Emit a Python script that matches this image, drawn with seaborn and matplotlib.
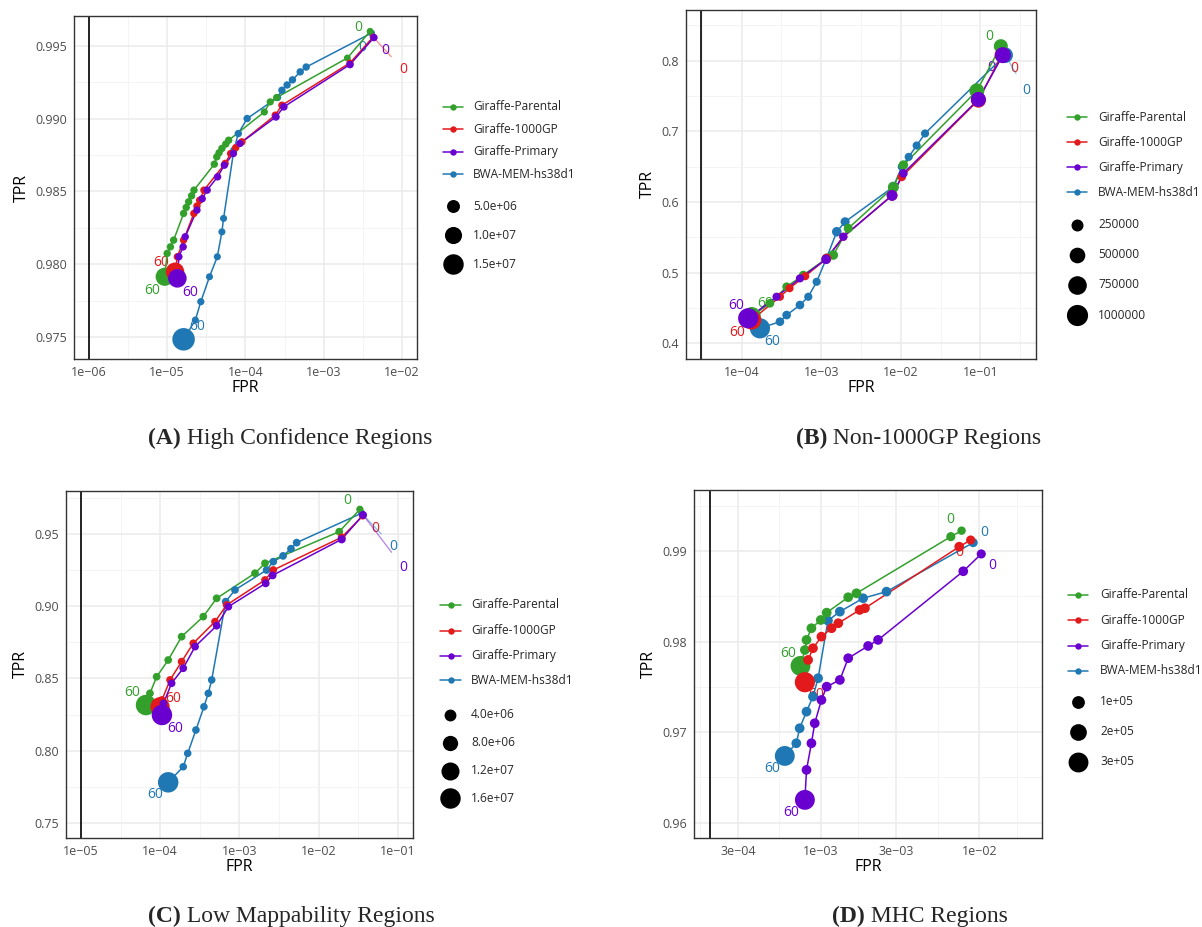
import numpy as np
import pandas as pd
import matplotlib
matplotlib.use("Agg")
import matplotlib.pyplot as plt
import seaborn as sns
from matplotlib.lines import Line2D
from matplotlib.ticker import FixedLocator, FixedFormatter, NullFormatter

W, H = 1202, 927

ALIGNERS = ["Giraffe-Parental", "Giraffe-1000GP", "Giraffe-Primary", "BWA-MEM-hs38d1"]
COLORS = ["#33A02C", "#E31A1C", "#6A00D0", "#1F78B4"]

# ---------------- Panel A: High Confidence Regions ----------------
A_PAR_FPR = [3.9e-3, 2.0e-3, 2.5e-4, 2.07e-4, 1.74e-4, 6.1e-5, 5.6e-5, 5.0e-5, 4.6e-5, 4.3e-5, 4.0e-5, 2.2e-5, 2.05e-5, 1.88e-5, 1.75e-5, 1.62e-5, 1.21e-5, 1.1e-5, 1.0e-5, 9.3e-6]
A_PAR_TPR = [0.99598, 0.99415, 0.99144, 0.99114, 0.99045, 0.98851, 0.98825, 0.98795, 0.98765, 0.98737, 0.98687, 0.98509, 0.98470, 0.98429, 0.98390, 0.98349, 0.98166, 0.98120, 0.98075, 0.97915]
A_PAR_N = [2e5, 2e5, 4e5, 4e5, 4e5, 5e5, 5e5, 5e5, 5e5, 5e5, 5e5, 5e5, 5e5, 5e5, 5e5, 5e5, 5e5, 5e5, 5e5, 1.15e7]

A_1KG_FPR = [4.27e-3, 2.16e-3, 2.92e-4, 2.40e-4, 9.0e-5, 7.5e-5, 6.46e-5, 5.5e-5, 2.95e-5, 2.6e-5, 2.4e-5, 2.19e-5, 1.62e-5, 1.35e-5, 1.26e-5]
A_1KG_TPR = [0.99559, 0.99381, 0.99091, 0.99023, 0.98840, 0.98800, 0.98760, 0.98692, 0.98509, 0.98440, 0.98400, 0.98349, 0.98166, 0.98052, 0.97949]
A_1KG_N = [2e5, 3e5, 5e5, 5e5, 5e5, 5e5, 5e5, 5e5, 5e5, 5e5, 5e5, 5e5, 5e5, 5e5, 1.2e7]

A_PRI_FPR = [4.37e-3, 2.16e-3, 3.09e-4, 2.45e-4, 8.5e-5, 7.0e-5, 5.37e-5, 4.4e-5, 3.24e-5, 2.8e-5, 2.4e-5, 1.7e-5, 1.6e-5, 1.41e-5, 1.35e-5]
A_PRI_TPR = [0.99555, 0.99370, 0.99080, 0.99011, 0.98829, 0.98760, 0.98680, 0.98600, 0.98509, 0.98450, 0.98372, 0.98189, 0.98120, 0.98052, 0.97904]
A_PRI_N = [5e5, 6e5, 6e5, 6e5, 5e5, 5e5, 5e5, 5e5, 5e5, 5e5, 5e5, 5e5, 5e5, 5e5, 1.2e7]

A_BWA_FPR = [4.07e-3, 5.96e-4, 5.0e-4, 3.98e-4, 3.4e-4, 2.92e-4, 2.57e-4, 1.05e-4, 8.1e-5, 7.1e-5, 5.25e-5, 5.0e-5, 4.37e-5, 3.47e-5, 2.69e-5, 2.29e-5, 1.62e-5]
A_BWA_TPR = [0.99586, 0.99353, 0.99320, 0.99265, 0.99230, 0.99194, 0.99144, 0.99000, 0.98897, 0.98783, 0.98315, 0.98223, 0.98052, 0.97915, 0.97744, 0.97618, 0.97486]
A_BWA_N = [2e5, 5e5, 5e5, 5e5, 5e5, 5e5, 4e5, 5e5, 5e5, 4e5, 3e5, 3e5, 3e5, 3e5, 4e5, 3e5, 1.85e7]

# ---------------- Panel B: Non-1000GP Regions ----------------
B_PAR_FPR = [0.181, 0.0904, 0.01079, 0.00807, 0.00219, 0.00142, 0.00117, 5.96e-4, 3.68e-4, 2.27e-4, 1.34e-4]
B_PAR_TPR = [0.8205, 0.7573, 0.6522, 0.6207, 0.5627, 0.5249, 0.5202, 0.4966, 0.4801, 0.4566, 0.4386]
B_PAR_N = [3.8e5, 4.5e5, 1.2e5, 1.9e5, 1e5, 1.2e5, 1.2e5, 8e4, 8e4, 8e4, 7e5]

B_1KG_FPR = [0.186, 0.0946, 0.0103, 0.00778, 0.0019, 0.00117, 6.3e-4, 4.0e-4, 3.03e-4, 1.34e-4]
B_1KG_TPR = [0.8078, 0.7441, 0.6356, 0.6093, 0.5508, 0.5202, 0.4950, 0.4780, 0.4659, 0.4330]
B_1KG_N = [4e5, 4.5e5, 8e4, 1.8e5, 6e4, 1.2e5, 6e4, 6e4, 6e4, 8e5]

B_PRI_FPR = [0.192, 0.0946, 0.01079, 0.00778, 0.0019, 0.00115, 5.41e-4, 2.75e-4, 1.21e-4]
B_PRI_TPR = [0.8078, 0.7451, 0.6405, 0.6093, 0.5508, 0.5188, 0.4919, 0.4659, 0.4354]
B_PRI_N = [5.3e5, 4.5e5, 8e4, 1.8e5, 6e4, 1.2e5, 6e4, 6e4, 9e5]

B_BWA_FPR = [0.205, 0.0202, 0.01585, 0.01259, 0.0103, 0.00807, 0.002, 0.00157, 0.00115, 8.77e-4, 6.89e-4, 5.41e-4, 3.68e-4, 3.03e-4, 1.70e-4]
B_BWA_TPR = [0.8078, 0.6970, 0.6799, 0.6638, 0.6498, 0.6215, 0.5720, 0.5579, 0.5188, 0.4871, 0.4659, 0.4542, 0.4400, 0.4306, 0.4212]
B_BWA_N = [5e5, 6e4, 6e4, 6e4, 6e4, 1.5e5, 1e5, 1.2e5, 1e5, 6e4, 6e4, 8e4, 8e4, 8e4, 9e5]

# ---------------- Panel C: Low Mappability Regions ----------------
C_PAR_FPR = [0.0331, 0.01816, 0.0021, 0.00157, 5.15e-4, 3.49e-4, 1.86e-4, 1.26e-4, 9.0e-5, 7.41e-5, 6.61e-5]
C_PAR_TPR = [0.9673, 0.9518, 0.9299, 0.9230, 0.9056, 0.8929, 0.8790, 0.8628, 0.8512, 0.8397, 0.8316]
C_PAR_N = [2e5, 5e5, 5e5, 5e5, 5e5, 5e5, 5e5, 5e5, 5e5, 5e5, 1.6e7]

C_1KG_FPR = [0.0359, 0.0195, 0.00267, 0.0021, 6.89e-4, 4.91e-4, 2.61e-4, 1.86e-4, 1.33e-4, 1.05e-4, 9.93e-5]
C_1KG_TPR = [0.9627, 0.9479, 0.9252, 0.9183, 0.9010, 0.8894, 0.8744, 0.8617, 0.8490, 0.8351, 0.8304]
C_1KG_N = [2e5, 5e5, 5e5, 5e5, 5e5, 5e5, 5e5, 5e5, 5e5, 5e5, 1.4e7]

C_PRI_FPR = [0.0363, 0.0195, 0.00262, 0.00214, 7.24e-4, 5.15e-4, 2.75e-4, 1.95e-4, 1.39e-4, 1.10e-4, 1.05e-4]
C_PRI_TPR = [0.9634, 0.9465, 0.9215, 0.9160, 0.8998, 0.8866, 0.8721, 0.8571, 0.8467, 0.8328, 0.8247]
C_PRI_N = [6e5, 8e5, 6e5, 6e5, 5e5, 5e5, 5e5, 5e5, 5e5, 5e5, 1.6e7]

C_BWA_FPR = [0.0348, 0.00527, 0.00447, 0.00355, 0.00267, 0.0022, 8.77e-4, 6.7e-4, 4.46e-4, 4.04e-4, 3.56e-4, 2.82e-4, 2.22e-4, 1.95e-4, 1.26e-4]
C_BWA_TPR = [0.9646, 0.9442, 0.9400, 0.9350, 0.9310, 0.9252, 0.9114, 0.9033, 0.8490, 0.8397, 0.8304, 0.8143, 0.7981, 0.7888, 0.7780]
C_BWA_N = [2e5, 5e5, 5e5, 5e5, 5e5, 5e5, 5e5, 5e5, 4e5, 4e5, 4e5, 4e5, 4e5, 4e5, 1.6e7]

# ---------------- Panel D: MHC Regions ----------------
D_PAR_FPR = [0.00774, 0.00662, 0.00168, 0.00149, 0.00109, 0.001, 8.73e-4, 8.13e-4, 7.94e-4, 7.45e-4]
D_PAR_TPR = [0.99224, 0.99158, 0.98533, 0.98489, 0.98319, 0.98238, 0.98147, 0.98018, 0.97907, 0.97731]
D_PAR_N = [2e4, 3e4, 4e4, 4e4, 4e4, 4e4, 4e4, 4e4, 4e4, 3.0e5]

D_1KG_FPR = [0.00883, 0.00748, 0.0019, 0.00176, 0.00129, 0.00117, 0.00101, 8.93e-4, 8.32e-4, 7.94e-4]
D_1KG_TPR = [0.99121, 0.99047, 0.98368, 0.98349, 0.98202, 0.98147, 0.98054, 0.97926, 0.97797, 0.97551]
D_1KG_N = [3e4, 4e4, 4e4, 4e4, 4e4, 4e4, 4e4, 4e4, 4e4, 3.1e5]

D_PRI_FPR = [0.0103, 0.00793, 0.0023, 0.00199, 0.00149, 0.00132, 0.00109, 0.00101, 9.16e-4, 8.73e-4, 8.13e-4, 7.94e-4]
D_PRI_TPR = [0.98967, 0.98776, 0.98018, 0.97951, 0.97816, 0.97576, 0.97502, 0.97355, 0.97098, 0.96877, 0.96583, 0.96252]
D_PRI_N = [3e4, 4e4, 4e4, 4e4, 4e4, 4e4, 4e4, 4e4, 4e4, 4e4, 4e4, 3.0e5]

D_BWA_FPR = [0.00916, 0.0026, 0.00185, 0.00132, 0.00111, 9.62e-4, 8.93e-4, 8.13e-4, 7.36e-4, 7.01e-4, 5.93e-4]
D_BWA_TPR = [0.99092, 0.98551, 0.98478, 0.98330, 0.98231, 0.97595, 0.97392, 0.97226, 0.97043, 0.96877, 0.96737]
D_BWA_N = [3e4, 4e4, 4e4, 4e4, 4e4, 4e4, 4e4, 4e4, 4e4, 4e4, 3.0e5]

# axis ticks
A_XTICKS = [1e-6, 1e-5, 1e-4, 1e-3, 1e-2]
A_XLABELS = ["1e\u221206", "1e\u221205", "1e\u221204", "1e\u221203", "1e\u221202"]
A_YTICKS = [0.975, 0.980, 0.985, 0.990, 0.995]
A_YLABELS = ["0.975", "0.980", "0.985", "0.990", "0.995"]
B_XTICKS = [1e-4, 1e-3, 1e-2, 1e-1]
B_XLABELS = ["1e\u221204", "1e\u221203", "1e\u221202", "1e\u221201"]
B_YTICKS = [0.4, 0.5, 0.6, 0.7, 0.8]
B_YLABELS = ["0.4", "0.5", "0.6", "0.7", "0.8"]
C_XTICKS = [1e-5, 1e-4, 1e-3, 1e-2, 1e-1]
C_XLABELS = ["1e\u221205", "1e\u221204", "1e\u221203", "1e\u221202", "1e\u221201"]
C_YTICKS = [0.75, 0.80, 0.85, 0.90, 0.95]
C_YLABELS = ["0.75", "0.80", "0.85", "0.90", "0.95"]
D_XTICKS = [3e-4, 1e-3, 3e-3, 1e-2]
D_XLABELS = ["3e\u221204", "1e\u221203", "3e\u221203", "1e\u221202"]
D_YTICKS = [0.96, 0.97, 0.98, 0.99]
D_YLABELS = ["0.96", "0.97", "0.98", "0.99"]

A_SIZE_BREAKS = [5e6, 1e7, 1.5e7]
A_SIZE_LABELS = ["5.0e+06", "1.0e+07", "1.5e+07"]
B_SIZE_BREAKS = [2.5e5, 5e5, 7.5e5, 1e6]
B_SIZE_LABELS = ["250000", "500000", "750000", "1000000"]
C_SIZE_BREAKS = [4e6, 8e6, 1.2e7, 1.6e7]
C_SIZE_LABELS = ["4.0e+06", "8.0e+06", "1.2e+07", "1.6e+07"]
D_SIZE_BREAKS = [1e5, 2e5, 3e5]
D_SIZE_LABELS = ["1e+05", "2e+05", "3e+05"]

CAPTIONS = [("(A)", " High Confidence Regions"), ("(B)", " Non-1000GP Regions"),
            ("(C)", " Low Mappability Regions"), ("(D)", " MHC Regions")]

sns.set_style("white")
plt.rcParams["font.family"] = ["Open Sans", "DejaVu Sans"]

fig = plt.figure(figsize=(W / 100, H / 100), dpi=100)
fig.patch.set_facecolor("white")


def fx(x):
    return x / W


def fy(y):
    return 1 - y / H


def make_df(fpr, tpr, n, name):
    return pd.DataFrame({"fpr": fpr, "tpr": tpr, "n": n, "aligner": name})


def panel(box, series, xlim, ylim, xt, xl, xminor, yt, yl, yminor, vline,
          sizes, nmax, labels):
    l, t, r, b = box
    ax = fig.add_axes([fx(l), fy(b), (r - l) / W, (b - t) / H])
    ax.set_xscale("log")
    ax.set_xlim(*xlim)
    ax.set_ylim(*ylim)
    ax.xaxis.set_major_locator(FixedLocator(xt))
    ax.xaxis.set_major_formatter(FixedFormatter(xl))
    ax.xaxis.set_minor_locator(FixedLocator(xminor))
    ax.xaxis.set_minor_formatter(NullFormatter())
    ax.yaxis.set_major_locator(FixedLocator(yt))
    ax.yaxis.set_major_formatter(FixedFormatter(yl))
    ax.yaxis.set_minor_locator(FixedLocator(yminor))
    ax.grid(True, which="major", color="#EBEBEB", lw=1.1, zorder=0)
    ax.grid(True, which="minor", color="#F2F2F2", lw=0.6, zorder=0)
    ax.set_axisbelow(True)
    ax.tick_params(which="major", length=3, width=0.8, color="#333333",
                   labelsize=9, labelcolor="#4D4D4D", pad=2)
    ax.tick_params(which="minor", length=0)
    for sp in ax.spines.values():
        sp.set_color("#333333")
        sp.set_linewidth(1.0)
    ax.axvline(vline, color="black", lw=1.2, zorder=1)

    dfs = [make_df(*s, ALIGNERS[i]) for i, s in enumerate(series)]
    order = [3, 0, 1, 2]
    for i in order:
        sns.lineplot(data=dfs[i], x="fpr", y="tpr", sort=False, estimator=None,
                     color=COLORS[i], lw=1.1, ax=ax, legend=False, zorder=2)
    for i in order:
        sns.scatterplot(data=dfs[i], x="fpr", y="tpr", size="n", sizes=sizes,
                        size_norm=(0, nmax), color=COLORS[i], linewidth=0,
                        edgecolor="none", legend=False, ax=ax, zorder=3)
    for (si, end, txt, dx, dy, seg) in labels:
        d = dfs[si]
        x, y = d["fpr"].iloc[end], d["tpr"].iloc[end]
        kw = {}
        if seg:
            kw["arrowprops"] = dict(arrowstyle="-", color=COLORS[si], alpha=0.45,
                                    lw=1.0, shrinkA=5, shrinkB=3)
        ax.annotate(txt, xy=(x, y), xytext=(dx, dy), textcoords="offset points",
                    ha="center", va="center", color=COLORS[si], fontsize=10,
                    zorder=1.5, **kw)
    ax.set_xlabel("FPR", fontsize=11.5, color="black", labelpad=1)
    ax.set_ylabel("TPR", fontsize=11.5, color="black", labelpad=4)
    return ax


def legend(rows_y, hx0, hx1, tx, size_rows_y, cx, breaks, blabels, sizes, nmax):
    hc = (hx0 + hx1) / 2
    for y, name, c in zip(rows_y, ALIGNERS, COLORS):
        fig.add_artist(Line2D([fx(hx0), fx(hx1)], [fy(y), fy(y)],
                              transform=fig.transFigure, color=c, lw=1.1))
        fig.add_artist(Line2D([fx(hc)], [fy(y)], transform=fig.transFigure,
                              marker="o", ms=4.6, color=c, mew=0, lw=0))
        fig.text(fx(tx), fy(y), name, va="center", ha="left", fontsize=8.6)
    lo, hi = sizes
    for y, v, lab in zip(size_rows_y, breaks, blabels):
        s = lo + min(v / nmax, 1) * (hi - lo)
        fig.add_artist(Line2D([fx(cx)], [fy(y)], transform=fig.transFigure,
                              marker="o", ms=np.sqrt(s), color="black", mew=0, lw=0))
        fig.text(fx(tx), fy(y), lab, va="center", ha="left", fontsize=8.6)


# Panel A
A_SIZES, A_NMAX = (22, 282), 2e7
panel((74, 16, 417, 359),
      [(A_PAR_FPR, A_PAR_TPR, A_PAR_N), (A_1KG_FPR, A_1KG_TPR, A_1KG_N),
       (A_PRI_FPR, A_PRI_TPR, A_PRI_N), (A_BWA_FPR, A_BWA_TPR, A_BWA_N)],
      (6.46e-7, 1.55e-2), (0.97351, 0.99703), A_XTICKS, A_XLABELS,
      [3.16e-6, 3.16e-5, 3.16e-4, 3.16e-3], A_YTICKS, A_YLABELS,
      [0.9775, 0.9825, 0.9875, 0.9925], 1e-6, A_SIZES, A_NMAX,
      [(0, 0, "0", -8.5, 3, False), (3, 0, "0", -7, -10.5, False),
       (2, 0, "0", 8, -9, False), (1, 0, "0", 21.6, -23.5, True),
       (1, -1, "60", -10, 6.5, False), (0, -1, "60", -9, -9.6, False),
       (2, -1, "60", 9, -10, False), (3, -1, "60", 9.6, 9, False)])
legend([106.7, 129.3, 151.7, 174.3], 443, 463, 473, [206, 235.3, 264], 452.7,
       A_SIZE_BREAKS, A_SIZE_LABELS, A_SIZES, A_NMAX)

# Panel B
B_SIZES, B_NMAX = (22, 232), 1e6
panel((686, 10, 1036, 359),
      [(B_PAR_FPR, B_PAR_TPR, B_PAR_N), (B_1KG_FPR, B_1KG_TPR, B_1KG_N),
       (B_PRI_FPR, B_PRI_TPR, B_PRI_N), (B_BWA_FPR, B_BWA_TPR, B_BWA_N)],
      (2.0e-5, 0.501), (0.3778, 0.8717), B_XTICKS, B_XLABELS,
      [3.16e-5, 3.16e-4, 3.16e-3, 3.16e-2, 0.316], B_YTICKS, B_YLABELS,
      [0.45, 0.55, 0.65, 0.75, 0.85], 3.1e-5, B_SIZES, B_NMAX,
      [(0, 0, "0", -8.2, 7.2, False), (2, 0, "0", -8.6, -8.9, False),
       (1, 0, "0", 9, -9.6, False), (3, 0, "0", 14.9, -25.2, True),
       (2, -1, "60", -8.9, 8.9, False), (0, -1, "60", 9.6, 9.1, False),
       (1, -1, "60", -10.4, -9.1, False), (3, -1, "60", 9.1, -9.6, False)])
legend([117.3, 142.3, 167.3, 192.3], 1067, 1087, 1098, [225, 255, 285, 315], 1076.7,
       B_SIZE_BREAKS, B_SIZE_LABELS, B_SIZES, B_NMAX)

# Panel C
C_SIZES, C_NMAX = (25, 241), 1.8e7
panel((66, 491, 413, 838),
      [(C_PAR_FPR, C_PAR_TPR, C_PAR_N), (C_1KG_FPR, C_1KG_TPR, C_1KG_N),
       (C_PRI_FPR, C_PRI_TPR, C_PRI_N), (C_BWA_FPR, C_BWA_TPR, C_BWA_N)],
      (6.46e-6, 0.155), (0.7394, 0.980), C_XTICKS, C_XLABELS,
      [3.16e-5, 3.16e-4, 3.16e-3, 3.16e-2], C_YTICKS, C_YLABELS,
      [0.775, 0.825, 0.875, 0.925, 0.975], 1e-5, C_SIZES, C_NMAX,
      [(0, 0, "0", -9.1, 6.2, False), (1, 0, "0", 8.9, -8.9, True),
       (3, 0, "0", 22.8, -24, True), (2, 0, "0", 28.8, -37.7, True),
       (0, -1, "60", -9.6, 9.1, False), (1, -1, "60", 9.6, 6, False),
       (2, -1, "60", 9.6, -9.6, False), (3, -1, "60", -9.6, -9.1, False)])
legend([605, 630.7, 656, 680], 440, 461, 471, [715, 742.7, 770.7, 798], 450,
       C_SIZE_BREAKS, C_SIZE_LABELS, C_SIZES, C_NMAX)

# Panel D
D_SIZES, D_NMAX = (25, 217), 3.2e5
panel((694, 490, 1042, 838),
      [(D_PAR_FPR, D_PAR_TPR, D_PAR_N), (D_1KG_FPR, D_1KG_TPR, D_1KG_N),
       (D_PRI_FPR, D_PRI_TPR, D_PRI_N), (D_BWA_FPR, D_BWA_TPR, D_BWA_N)],
      (1.585e-4, 0.0249), (0.95831, 0.99673), D_XTICKS, D_XLABELS,
      [1.73e-4, 5.48e-4, 1.73e-3, 5.48e-3, 1.73e-2], D_YTICKS, D_YLABELS,
      [0.965, 0.975, 0.985, 0.995], 2e-4, D_SIZES, D_NMAX,
      [(0, 0, "0", -8.4, 7.7, False), (3, 0, "0", 7.7, 7.5, False),
       (1, 0, "0", -8.4, -9.1, False), (2, 0, "0", 8.2, -8.6, False),
       (0, -1, "60", -8.9, 8.6, False), (1, -1, "60", 8.4, -9.1, False),
       (3, -1, "60", -9.1, -9.4, False), (2, -1, "60", -9.6, -9.1, False)])
legend([595, 620, 645.7, 670.7], 1068, 1088, 1100, [701.7, 731.7, 761.7], 1078,
       D_SIZE_BREAKS, D_SIZE_LABELS, D_SIZES, D_NMAX)

# captions
CAP_POS = [(148, 444), (796, 444), (148, 922), (832, 922)]
for (bold, rest), (x, y) in zip(CAPTIONS, CAP_POS):
    tb = fig.text(fx(x), fy(y), bold, fontsize=17, fontweight="bold",
                  family="Liberation Serif", va="baseline", ha="left")
    fig.axes[0].annotate(rest, xy=(1, 0), xycoords=tb, xytext=(0, 0),
                         textcoords="offset points", fontsize=17,
                         family="Liberation Serif", va="bottom", ha="left",
                         annotation_clip=False)

fig.savefig("out.png", dpi=100, facecolor="white")
